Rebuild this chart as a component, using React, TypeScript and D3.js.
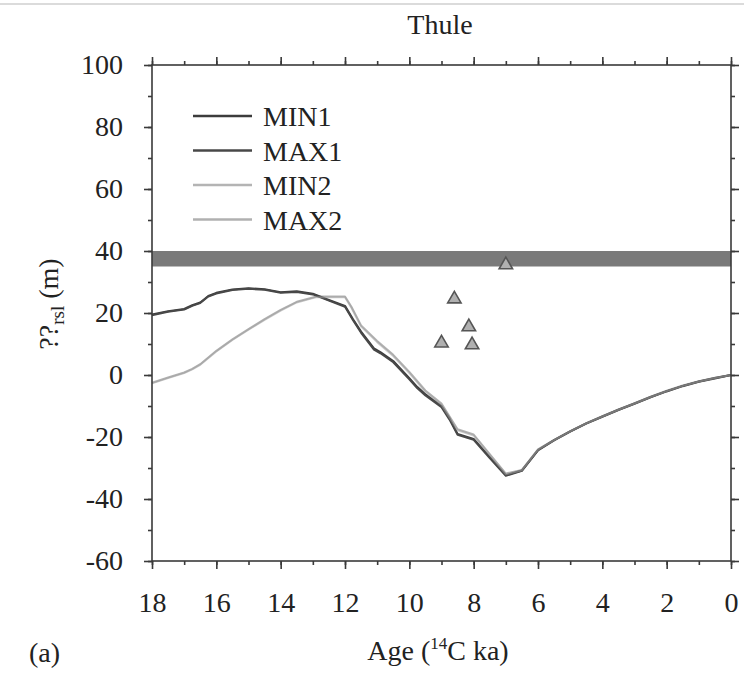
import React, { useEffect, useRef } from 'react';
import * as d3 from 'd3';

// ages (14C ka) and relative sea level (m)
const ageDark = [18, 17.5, 17, 16.75, 16.5, 16.25, 16, 15.5, 15, 14.5, 14, 13.5, 13, 12.5, 12, 11.75, 11.5, 11.1, 10.9, 10.5, 10, 9.75, 9.5, 9, 8.75, 8.5, 8, 7.5, 7, 6.5, 6, 5.5, 5, 4.5, 4, 3.5, 3, 2.5, 2, 1.5, 1, 0.5, 0];
const min1 = [19.5, 20.6, 21.3, 22.5, 23.4, 25.5, 26.5, 27.6, 28, 27.7, 26.7, 27.0, 26.2, 24.2, 22.3, 18, 14, 8.6, 7.4, 4.5, -1, -3.9, -6.2, -10, -14, -19, -20.6, -26.5, -32.3, -30.8, -24.2, -21, -18.2, -15.6, -13.4, -11.2, -9.2, -7.1, -5.2, -3.5, -2.1, -1, 0];
const max1 = [19.3, 20.4, 21.1, 22.3, 23.2, 25.3, 26.3, 27.4, 27.8, 27.5, 26.5, 26.8, 26.0, 24.0, 22.0, 17.7, 13.6, 8.2, 7.0, 4.1, -1.4, -4.3, -6.6, -10.4, -14.4, -19.3, -20.9, -26.8, -32.5, -30.9, -24.3, -21.1, -18.3, -15.7, -13.5, -11.3, -9.3, -7.2, -5.3, -3.6, -2.2, -1.1, 0];

const ageLight = [18, 17.5, 17, 16.75, 16.5, 16, 15.5, 15, 14.5, 14, 13.5, 13, 12.9, 12, 11.8, 11.5, 11, 10.5, 10, 9.5, 9, 8.5, 8, 7.5, 7, 6.5, 6, 5.5, 5, 4.5, 4, 3.5, 3, 2.5, 2, 1.5, 1, 0.5, 0];
const min2 = [-2.5, -0.8, 0.8, 2, 3.5, 7.8, 11.5, 14.8, 18, 21, 23.6, 25, 25.3, 25.3, 22, 16, 11, 6.5, 1, -5, -9.2, -17.5, -19.2, -25.5, -31.8, -30.6, -24, -20.9, -18.1, -15.5, -13.3, -11.1, -9.1, -7.0, -5.1, -3.4, -2.0, -0.9, 0];
const max2 = [-2.7, -1.0, 0.6, 1.8, 3.3, 7.6, 11.3, 14.6, 17.8, 20.8, 23.4, 24.8, 25.1, 25.1, 21.7, 15.6, 10.6, 6.1, 0.6, -5.4, -9.6, -17.8, -19.5, -25.8, -32.0, -30.7, -24.1, -21.0, -18.2, -15.6, -13.4, -11.2, -9.2, -7.1, -5.2, -3.5, -2.1, -1.0, 0];

const obsAge = [7.0, 8.6, 8.15, 9.0, 8.05];
const obsRsl = [35.5, 24.5, 15.5, 10.3, 9.7];

const bandLow = 35;
const bandHigh = 40;

const xTicks = [18, 16, 14, 12, 10, 8, 6, 4, 2, 0];
const yTicks = [100, 80, 60, 40, 20, 0, -20, -40, -60];

const series = [
  { name: 'MIN1', age: ageDark, val: min1, color: '#3c3c3c', width: 2, opacity: 1 },
  { name: 'MAX1', age: ageDark, val: max1, color: '#484848', width: 2, opacity: 1 },
  { name: 'MIN2', age: ageLight, val: min2, color: '#b4b4b4', width: 2, opacity: 1 },
  { name: 'MAX2', age: ageLight, val: max2, color: '#a0a0a0', width: 2, opacity: 0.55 },
];
// draw order: MIN2 under the dark pair, MAX2 translucent on top
const drawOrder = [2, 0, 1, 3];

const font = '"Liberation Serif", "Times New Roman", serif';
const fs = 28;

export default function App() {
  const ref = useRef<SVGSVGElement>(null);

  useEffect(() => {
    const svg = d3.select(ref.current);
    svg.selectAll('*').remove();

    const left = 152, right = 731, top = 65, bottom = 561;
    const x = d3.scaleLinear().domain([18, 0]).range([left, right]);
    const y = d3.scaleLinear().domain([-60, 100]).range([bottom, top]);

    // faint border from the scan
    svg.append('line').attr('x1', 0).attr('x2', 744).attr('y1', 4).attr('y2', 4)
      .attr('stroke', '#cfcfcf').attr('stroke-width', 1.5);

    // observed band
    svg.append('rect')
      .attr('x', x(18)).attr('width', x(0) - x(18))
      .attr('y', y(bandHigh)).attr('height', y(bandLow) - y(bandHigh))
      .attr('fill', '#7a7a7a');

    const line = d3.line<[number, number]>().x(d => x(d[0])).y(d => y(d[1]));
    drawOrder.forEach(k => {
      const s = series[k];
      svg.append('path')
        .attr('d', line(s.age.map((a, i) => [a, s.val[i]] as [number, number])))
        .attr('fill', 'none').attr('stroke', s.color).attr('stroke-width', s.width)
        .attr('stroke-opacity', s.opacity)
        .attr('stroke-linejoin', 'round');
    });

    // triangles
    const tri = d3.symbol().type(d3.symbolTriangle).size(78);
    svg.selectAll('path.obs').data(obsAge).enter().append('path')
      .attr('class', 'obs')
      .attr('d', tri)
      .attr('transform', (d, i) => `translate(${x(d)},${y(obsRsl[i])})`)
      .attr('fill', '#b0b0b0').attr('stroke', '#555').attr('stroke-width', 1.6);

    // frame
    svg.append('rect').attr('x', left).attr('y', top)
      .attr('width', right - left).attr('height', bottom - top)
      .attr('fill', 'none').attr('stroke', '#3a3a3a').attr('stroke-width', 1.6);

    const minorX = d3.range(0, 19, 1);
    const minorY = d3.range(-60, 101, 10);
    const styleAxis = (g: any) => {
      g.select('.domain').remove();
      g.selectAll('line').attr('stroke', '#3a3a3a').attr('stroke-width', 1.6);
      g.selectAll('text').attr('font-family', font).attr('font-size', fs).attr('fill', '#222');
    };
    const plain = (d: any) => String(d);
    const none = () => '';

    styleAxis(svg.append('g').attr('transform', `translate(0,${bottom})`)
      .call(d3.axisBottom(x).tickValues(xTicks).tickSize(8).tickPadding(23).tickFormat(plain)));
    styleAxis(svg.append('g').attr('transform', `translate(0,${bottom})`)
      .call(d3.axisBottom(x).tickValues(minorX).tickSize(4).tickFormat(none)));

    styleAxis(svg.append('g').attr('transform', `translate(0,${top})`)
      .call(d3.axisTop(x).tickValues(xTicks).tickSize(8).tickFormat(none)));
    styleAxis(svg.append('g').attr('transform', `translate(0,${top})`)
      .call(d3.axisTop(x).tickValues(minorX).tickSize(4).tickFormat(none)));

    styleAxis(svg.append('g').attr('transform', `translate(${left},0)`)
      .call(d3.axisLeft(y).tickValues(yTicks).tickSize(8).tickPadding(21).tickFormat(plain)));
    styleAxis(svg.append('g').attr('transform', `translate(${left},0)`)
      .call(d3.axisLeft(y).tickValues(minorY).tickSize(4).tickFormat(none)));

    styleAxis(svg.append('g').attr('transform', `translate(${right},0)`)
      .call(d3.axisRight(y).tickValues(yTicks).tickSize(8).tickFormat(none)));
    styleAxis(svg.append('g').attr('transform', `translate(${right},0)`)
      .call(d3.axisRight(y).tickValues(minorY).tickSize(4).tickFormat(none)));

    // legend
    series.forEach((s, i) => {
      const ly = 116 + i * 34.5;
      svg.append('line').attr('x1', 193).attr('x2', 252).attr('y1', ly).attr('y2', ly)
        .attr('stroke', i === 3 ? '#b0b0b0' : s.color).attr('stroke-width', s.width + 0.6);
      svg.append('text').attr('x', 263).attr('y', ly + 10)
        .attr('font-family', font).attr('font-size', fs).attr('fill', '#222')
        .text(s.name);
    });

    // title
    svg.append('text').attr('x', 440).attr('y', 34).attr('text-anchor', 'middle')
      .attr('font-family', font).attr('font-size', fs).attr('fill', '#222').text('Thule');

    // x title
    const xt = svg.append('text').attr('x', 438).attr('y', 660).attr('text-anchor', 'middle')
      .attr('font-family', font).attr('font-size', fs).attr('fill', '#222');
    xt.append('tspan').text('Age (');
    xt.append('tspan').attr('font-size', 17).attr('dy', -11).text('14');
    xt.append('tspan').attr('dy', 11).text('C ka)');

    // y title
    const yt = svg.append('text').attr('transform', 'translate(58,304) rotate(-90)')
      .attr('text-anchor', 'middle')
      .attr('font-family', font).attr('font-size', fs).attr('fill', '#222');
    yt.append('tspan').text('??');
    yt.append('tspan').attr('font-size', 19).attr('dy', 6).text('rsl');
    yt.append('tspan').attr('dy', -6).text(' (m)');

    // panel label
    svg.append('text').attr('x', 29).attr('y', 662)
      .attr('font-family', font).attr('font-size', fs).attr('fill', '#222').text('(a)');
  }, []);

  return (
    <svg ref={ref} width={744} height={675}
      style={{ position: 'absolute', left: 0, top: 0, background: '#fff' }} />
  );
}
